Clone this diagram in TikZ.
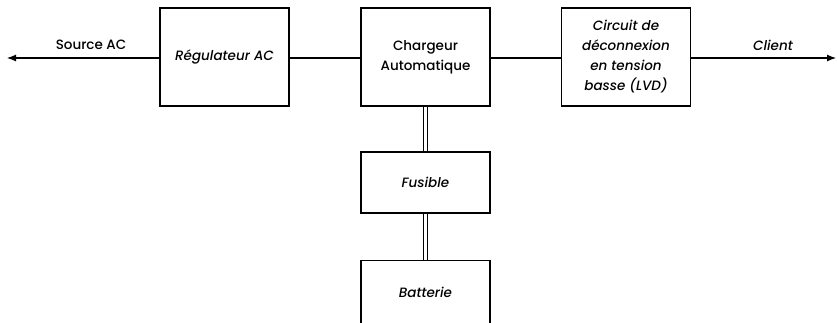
\documentclass[tikz,border=0pt]{standalone}
\usepackage{fontspec}
\setmainfont{Poppins}[UprightFont=* Medium, ItalicFont=* Medium Italic]
\usetikzlibrary{arrows.meta}
\begin{document}
\begin{tikzpicture}[x=1pt,y=-1pt,
  blk/.style={draw,line width=1.3pt,minimum width=129pt,inner sep=0pt,align=center,font=\fontsize{13.5}{20}\selectfont},
  itblk/.style={blk,font=\fontsize{13.5}{20}\selectfont\itshape},
  wire/.style={line width=1.1pt},
  dbl/.style={double,double distance=3pt,line width=0.9pt},
  lbl/.style={font=\fontsize{13.5}{16}\selectfont}]
\useasboundingbox (0,0) rectangle (837,322);
\node[itblk,minimum height=98pt] (reg) at (224.5,57) {Régulateur AC};
\node[blk,minimum height=98pt] (chg) at (425.5,57) {Chargeur\\Automatique};
\node[itblk,minimum height=98pt] (lvd) at (626,57) {Circuit de\\déconnexion\\en tension\\basse (LVD)};
\node[itblk,minimum height=61pt] (fus) at (425.5,182.5) {Fusible};
\node[itblk,minimum height=63pt] (bat) at (425.5,292) {Batterie};
\coordinate (srcend) at (7,58);
\coordinate (cliend) at (836,58);
\draw[wire,-{Latex[length=9pt,width=7pt]}] (reg.west|-srcend) -- (srcend);
\draw[wire] (reg.east|-srcend) -- (chg.west|-srcend);
\draw[wire] (chg.east|-srcend) -- (lvd.west|-srcend);
\draw[wire,-{Latex[length=9pt,width=7pt]}] (lvd.east|-cliend) -- (cliend);
\draw[dbl] (chg.south) -- (fus.north);
\draw[dbl] (fus.south) -- (bat.north);
\node[lbl] (srclbl) at (91,45) {Source AC};
\node[lbl,font=\fontsize{13.5}{16}\selectfont\itshape] (clilbl) at (773,45) {Client};
\end{tikzpicture}
\end{document}
